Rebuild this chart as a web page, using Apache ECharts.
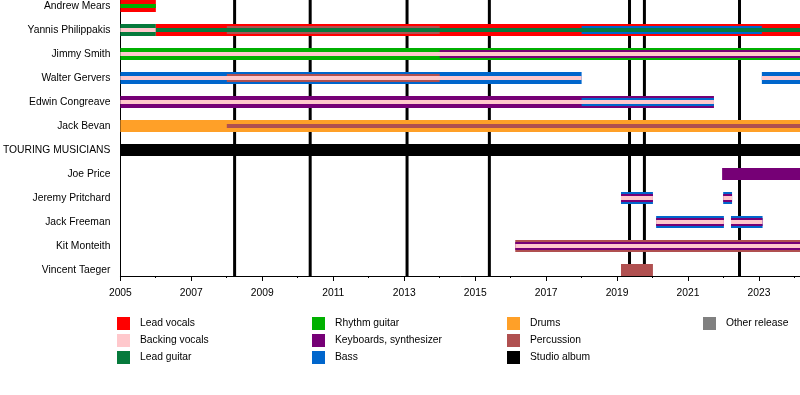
<!DOCTYPE html>
<html>
<head>
<meta charset="utf-8">
<script src="https://cdn.jsdelivr.net/npm/echarts@6/dist/echarts.min.js"></script>
<style>
html,body{margin:0;padding:0;background:#fff;}
#chart{width:800px;height:395px;}
</style>
</head>
<body>
<div id="chart"></div>
<script>
// ---------- data ----------
const rows = ['Andrew Mears','Yannis Philippakis','Jimmy Smith','Walter Gervers','Edwin Congreave','Jack Bevan','TOURING MUSICIANS','Joe Price','Jeremy Pritchard','Jack Freeman','Kit Monteith','Vincent Taeger'];
const roleNames = ['Lead vocals','Backing vocals','Lead guitar','Rhythm guitar','Keyboards, synthesizer','Bass','Drums','Percussion','Studio album','Other release'];
const startYear = 2005;
const endYear = 2024.155;
const albumDates = [2008.22, 2010.35, 2013.08, 2015.4, 2019.35, 2019.77, 2022.45];
const xLabelYears = [2005,2007,2009,2011,2013,2015,2017,2019,2021,2023];
const xMinorYears = [2005,2006,2007,2008,2009,2010,2011,2012,2013,2014,2015,2016,2017,2018,2019,2020,2021,2022,2023,2024];

// segments: [start, end, role, layer]  (layer 0 = outer, 1 = middle, 2 = inner)
const mearsPeriods = [[2005,2006,'Lead vocals',0],[2005,2006,'Rhythm guitar',2]];
const philippakisPeriods = [[2005,2006,'Lead guitar',0],[2005,2006,'Backing vocals',2],[2006,endYear,'Lead vocals',0],[2008,2014,'Percussion',1],[2018,2023.08,'Bass',1],[2006,endYear,'Lead guitar',2]];
const smithPeriods = [[2005,endYear,'Rhythm guitar',0],[2014,endYear,'Keyboards, synthesizer',1],[2005,endYear,'Backing vocals',2]];
const gerversPeriods = [[2005,2018,'Bass',0],[2008,2014,'Percussion',1],[2005,2018,'Backing vocals',2],[2023.08,endYear,'Bass',0],[2023.08,endYear,'Backing vocals',2]];
const congreavePeriods = [[2005,2021.73,'Keyboards, synthesizer',0],[2018,2021.73,'Bass',1],[2005,2021.73,'Backing vocals',2]];
const bevanPeriods = [[2005,endYear,'Drums',0],[2008,endYear,'Percussion',2]];
const touringPeriods = [[2005,endYear,'Studio album',0]];
const pricePeriods = [[2021.96,endYear,'Keyboards, synthesizer',0]];
const pritchardPeriods = [[2019.11,2020.01,'Bass',0],[2019.11,2020.01,'Keyboards, synthesizer',1],[2019.11,2020.01,'Backing vocals',2],[2021.99,2022.24,'Bass',0],[2021.99,2022.24,'Keyboards, synthesizer',1],[2021.99,2022.24,'Backing vocals',2]];
const freemanPeriods = [[2020.1,2022.01,'Bass',0],[2020.1,2022.01,'Keyboards, synthesizer',1],[2020.1,2022.01,'Backing vocals',2],[2022.21,2023.1,'Bass',0],[2022.21,2023.1,'Keyboards, synthesizer',1],[2022.21,2023.1,'Backing vocals',2]];
const monteithPeriods = [[2016.13,endYear,'Percussion',0],[2016.13,endYear,'Keyboards, synthesizer',1],[2016.13,endYear,'Backing vocals',2]];
const taegerPeriods = [[2019.11,2020.01,'Percussion',0]];

const memberPeriods = [mearsPeriods, philippakisPeriods, smithPeriods, gerversPeriods, congreavePeriods, bevanPeriods, touringPeriods, pricePeriods, pritchardPeriods, freemanPeriods, monteithPeriods, taegerPeriods];

// ---------- styles ----------
const roleColors = {
  'Lead vocals':'#ff0000',
  'Backing vocals':'#ffc8cc',
  'Lead guitar':'#067a3c',
  'Rhythm guitar':'#00b000',
  'Keyboards, synthesizer':'#760076',
  'Bass':'#0066cc',
  'Drums':'#ffa028',
  'Percussion':'#b05050',
  'Studio album':'#000000',
  'Other release':'#808080'
};
const layerHeights = [12, 8, 4];
const FONT = 'Liberation Sans, Arial, sans-serif';

// build custom-series data
const segData = [];
memberPeriods.forEach((periods, rowIdx) => {
  periods.forEach(p => {
    segData.push([p[0], p[1], rowIdx, p[3], roleNames.indexOf(p[2])]);
  });
});
segData.sort((a, b) => a[3] - b[3]);

const chart = echarts.init(document.getElementById('chart'), null, {renderer: 'canvas'});

const legendSeries = roleNames.map(n => ({
  name: n, type: 'scatter', data: [], itemStyle: {color: roleColors[n], opacity: 1}
}));

function legendCol(names, left) {
  return {
    data: names.map(n => ({name: n, icon: 'rect', itemStyle: {color: roleColors[n], opacity: 1}})),
    orient: 'vertical', left: left, top: 317, padding: 0,
    itemWidth: 13, itemHeight: 13, itemGap: 4,
    selectedMode: false,
    textStyle: {fontFamily: FONT, fontSize: 10.3, color: '#000', padding: [2, 0, 0, 5]}
  };
}

const option = {
  animation: false,
  backgroundColor: '#fff',
  grid: [
    {left: 120, top: 0, right: 0, height: 276, containLabel: false},
    {left: 120, top: 0, right: 0, height: 276, containLabel: false}
  ],
  xAxis: [{
    type: 'value', gridIndex: 0, position: 'bottom', min: startYear, max: endYear,
    axisLine: {show: true, onZero: false, lineStyle: {color: '#000', width: 1}},
    axisTick: {show: true, length: 5, lineStyle: {color: '#000'}, customValues: xLabelYears},
    axisLabel: {show: true, customValues: xLabelYears, formatter: v => String(Math.round(v)), fontFamily: FONT, fontSize: 10.3, color: '#000', margin: 12},
    splitLine: {show: false}
  }, {
    type: 'value', gridIndex: 1, position: 'bottom', min: startYear, max: endYear,
    axisLine: {show: false, onZero: false},
    axisTick: {show: true, length: 2, lineStyle: {color: '#000'}, customValues: xMinorYears},
    axisLabel: {show: false},
    splitLine: {show: false}
  }],
  yAxis: [{
    type: 'value', gridIndex: 0, inverse: true, min: -0.25, max: 11.25,
    axisLine: {show: true, onZero: false, lineStyle: {color: '#000', width: 1}},
    axisTick: {show: false},
    axisLabel: {show: true, customValues: rows.map((r, i) => i), formatter: v => rows[Math.round(v)] || '', fontFamily: FONT, fontSize: 10.3, color: '#000', margin: 10},
    splitLine: {show: false}
  }, {
    type: 'value', gridIndex: 1, show: false, min: -0.25, max: 11.25, inverse: true,
    axisLine: {onZero: false}
  }],
  legend: [
    legendCol(['Lead vocals','Backing vocals','Lead guitar'], 117),
    legendCol(['Rhythm guitar','Keyboards, synthesizer','Bass'], 312),
    legendCol(['Drums','Percussion','Studio album'], 507),
    legendCol(['Other release'], 703)
  ],
  series: [
    {
      type: 'custom', name: 'albums', xAxisIndex: 0, yAxisIndex: 0, z: 1,
      data: albumDates.map(d => [d]),
      renderItem: (params, api) => {
        const top = api.coord([api.value(0), -0.25]);
        const bot = api.coord([api.value(0), 11.25]);
        return {type: 'line', shape: {x1: top[0], y1: top[1], x2: bot[0], y2: bot[1]}, style: {stroke: '#000', lineWidth: 3}};
      }
    },
    {
      type: 'custom', name: 'periods', xAxisIndex: 0, yAxisIndex: 0, z: 2,
      data: segData,
      renderItem: (params, api) => {
        const s = api.coord([api.value(0), api.value(2)]);
        const e = api.coord([api.value(1), api.value(2)]);
        const h = layerHeights[api.value(3)];
        const col = roleColors[roleNames[api.value(4)]];
        return {type: 'rect', shape: {x: s[0], y: s[1] - h / 2, width: e[0] - s[0], height: h}, style: {fill: col}};
      }
    }
  ].concat(legendSeries)
};
chart.setOption(option);
</script>
</body>
</html>
